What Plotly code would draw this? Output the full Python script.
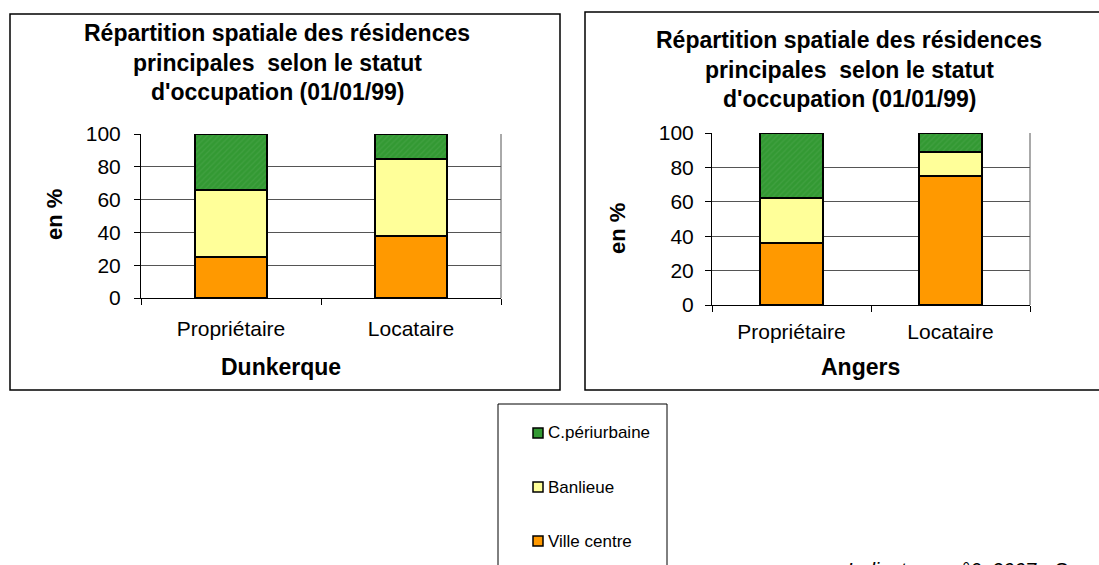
import plotly.graph_objects as go

W, H = 1099, 565

categories = ["Propriétaire", "Locataire"]
series_names = ["Ville centre", "Banlieue", "C.périurbaine"]
series_colors = ["#FF9900", "#FFFF99", "#339933"]

dunkerque_ville = [25, 38]
dunkerque_banlieue = [41, 47]
dunkerque_peri = [34, 15]

angers_ville = [36, 75]
angers_banlieue = [26, 14]
angers_peri = [38, 11]

title_lines = ["Répartition spatiale des résidences",
               "principales  selon le statut",
               "d'occupation (01/01/99)"]
city_names = ["Dunkerque", "Angers"]
y_title = "en %"
y_ticks = [0, 20, 40, 60, 80, 100]
footer = "Indicateurs n°6, 2007 - Source"

FONT = "Liberation Sans, Arial"


def px(x):
    return x / W


def py(y):
    return 1 - y / H


fig = go.Figure()

datasets = [
    (dunkerque_ville, dunkerque_banlieue, dunkerque_peri),
    (angers_ville, angers_banlieue, angers_peri),
]

for i, data in enumerate(datasets):
    xa = "x" if i == 0 else "x2"
    ya = "y" if i == 0 else "y2"
    for j, (name, vals, col) in enumerate(zip(series_names, data, series_colors)):
        marker = dict(color=col, line=dict(color="#000000", width=1.8))
        if j == 2:
            marker["pattern"] = dict(shape="/", fillmode="overlay",
                                     fgcolor="#4fa84f", size=4, solidity=0.3)
        fig.add_trace(go.Bar(
            x=categories, y=vals, name=name, marker=marker,
            xaxis=xa, yaxis=ya, width=0.4,
            showlegend=False, hoverinfo="skip",
        ))

axis_common_x = dict(
    showgrid=False, showline=True, linecolor="#000000", linewidth=1,
    ticks="outside", tickson="boundaries", ticklen=6, tickcolor="#000000",
    tickfont=dict(family=FONT, size=21, color="#000000"),
    fixedrange=True,
)
axis_common_y = dict(
    range=[0, 100], tickvals=y_ticks, showgrid=True, gridcolor="#555555",
    gridwidth=1, showline=True, linecolor="#000000", linewidth=1,
    ticks="outside", ticklen=6, tickcolor="#000000", zeroline=False,
    tickfont=dict(family=FONT, size=21, color="#000000"),
    fixedrange=True,
)

plots = [
    dict(x0=141, x1=501, y0=134, y1=298),
    dict(x0=712, x1=1030, y0=133, y1=305),
]

fig.update_layout(
    xaxis=dict(domain=[px(plots[0]["x0"]), px(plots[0]["x1"])], anchor="y",
               ticklabelstandoff=12, **axis_common_x),
    yaxis=dict(domain=[py(plots[0]["y1"]), py(plots[0]["y0"])], anchor="x",
               ticklabelstandoff=9, **axis_common_y),
    xaxis2=dict(domain=[px(plots[1]["x0"]), px(plots[1]["x1"])], anchor="y2",
                ticklabelstandoff=8, **axis_common_x),
    yaxis2=dict(domain=[py(plots[1]["y1"]), py(plots[1]["y0"])], anchor="x2",
                ticklabelstandoff=7, **axis_common_y),
    barmode="stack",
    width=W, height=H,
    margin=dict(l=0, r=0, t=0, b=0, autoexpand=False),
    paper_bgcolor="#ffffff", plot_bgcolor="#ffffff",
    font=dict(family=FONT, color="#000000"),
    showlegend=False,
)

shapes = []
# chart frames
shapes.append(dict(type="rect", xref="paper", yref="paper",
                   x0=px(10), x1=px(560), y0=py(390), y1=py(14),
                   line=dict(color="#000000", width=1.5), layer="below"))
shapes.append(dict(type="rect", xref="paper", yref="paper",
                   x0=px(585), x1=px(1110), y0=py(390), y1=py(12),
                   line=dict(color="#000000", width=1.5), layer="below"))
# legend frame (extends past bottom)
shapes.append(dict(type="rect", xref="paper", yref="paper",
                   x0=px(498), x1=px(667), y0=py(620), y1=py(404),
                   line=dict(color="#000000", width=1), layer="below"))
# plot area right borders
for p in plots:
    shapes.append(dict(type="line", xref="paper", yref="paper",
                       x0=px(p["x1"]), x1=px(p["x1"]), y0=py(p["y1"]), y1=py(p["y0"]),
                       line=dict(color="#555555", width=1), layer="below"))

annotations = []

# legend (top to bottom: reverse of stacking order)
legend_y = [433, 487, 541]
for name, col, yy in zip(series_names[::-1], series_colors[::-1], legend_y):
    shapes.append(dict(type="rect", xref="paper", yref="paper",
                       x0=px(533), x1=px(543), y0=py(yy + 5), y1=py(yy - 5),
                       fillcolor=col, line=dict(color="#000000", width=1.5)))
    annotations.append(dict(
        text=name, xref="paper", yref="paper",
        x=px(546), y=py(yy), xanchor="left", yanchor="middle",
        showarrow=False, font=dict(family=FONT, size=17, color="#000000"),
    ))

fig.update_layout(shapes=shapes)

title_pos = [
    dict(cx=277, ys=[33, 63, 92]),
    dict(cx=849, ys=[40, 70, 99]),
]
for tp in title_pos:
    for line, yy in zip(title_lines, tp["ys"]):
        annotations.append(dict(
            text="<b>" + line + "</b>", xref="paper", yref="paper",
            x=px(tp["cx"]), y=py(yy), xanchor="center", yanchor="middle",
            showarrow=False,
            font=dict(family=FONT, size=23, color="#000000"),
        ))
ylab_pos = [(55, 215), (617, 229)]
for (xx, yy) in ylab_pos:
    annotations.append(dict(
        text="<b>" + y_title + "</b>", xref="paper", yref="paper",
        x=px(xx), y=py(yy), xanchor="center", yanchor="middle",
        textangle=-90, showarrow=False,
        font=dict(family=FONT, size=22, color="#000000"),
    ))
xlab_pos = [(281, 367), (860, 367)]
for name, (xx, yy) in zip(city_names, xlab_pos):
    annotations.append(dict(
        text="<b>" + name + "</b>", xref="paper", yref="paper",
        x=px(xx), y=py(yy), xanchor="center", yanchor="middle",
        showarrow=False,
        font=dict(family=FONT, size=23, color="#000000"),
    ))
annotations.append(dict(
    text="<i>" + footer + "</i>", xref="paper", yref="paper",
    x=px(845), y=py(557), xanchor="left", yanchor="top",
    showarrow=False,
    font=dict(family=FONT, size=20, color="#000000"),
))
fig.update_layout(annotations=annotations)

fig.write_html("out.html", config={"displayModeBar": False},
               post_script="document.body.style.margin='0';")
